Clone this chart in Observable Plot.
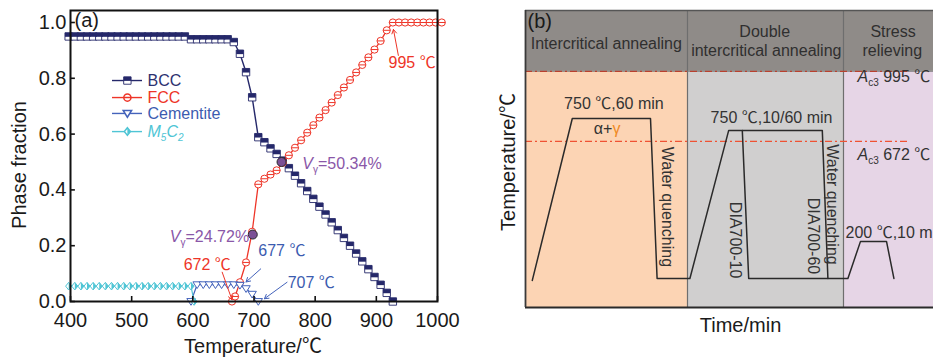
<!DOCTYPE html>
<html><head><meta charset="utf-8">
<script src="https://cdn.jsdelivr.net/npm/d3@7"></script>
<script src="https://cdn.jsdelivr.net/npm/@observablehq/plot@0.6"></script>
<style>
body{margin:0;background:#fff;}
#wrap{position:relative;width:933px;height:358px;overflow:hidden;}
#a{position:absolute;left:0;top:0;}
#b{position:absolute;left:480px;top:0;}
</style></head><body><div id="wrap"><div id="a"></div><div id="b"></div></div>
<script>
// ---------- Panel (a) data: phase fraction vs temperature ----------
const bccT = [397,407,417,427,437,447,457,467,477,487,497,507,517,527,537,547,557,567,577,587,597,607,617,627,637,647,657,667,677,687,697,707,717,727,737,747,757,767,777,787,797,807,817,827,837,847,857,867,877,887,897,907,917,927];
const bccV = [0.95,0.95,0.95,0.95,0.95,0.95,0.95,0.95,0.95,0.95,0.95,0.95,0.95,0.95,0.95,0.95,0.95,0.95,0.95,0.95,0.94,0.94,0.94,0.94,0.94,0.94,0.94,0.93,0.888,0.822,0.732,0.589,0.571,0.549,0.529,0.505,0.478,0.451,0.424,0.396,0.368,0.34,0.312,0.284,0.256,0.228,0.2,0.172,0.144,0.116,0.088,0.06,0.031,0];
const fccT = [664,669,677,687,697,707,717,727,737,747,757,767,777,787,797,807,817,827,837,847,857,867,877,887,897,907,917,927,937,947,957,967,977,987,997,1007];
const fccV = [0,0.018,0.069,0.14,0.25,0.42,0.44,0.455,0.47,0.497,0.524,0.551,0.578,0.605,0.632,0.659,0.686,0.713,0.74,0.767,0.794,0.821,0.848,0.875,0.903,0.934,0.972,1,1,1,1,1,1,1,1,1];
const cemT = [597,607,617,627,637,647,657,667,677,687,697,707];
const cemV = [0,0.06,0.06,0.06,0.06,0.06,0.06,0.06,0.058,0.046,0.026,0];
const m5T = [397,407,417,427,437,447,457,467,477,487,497,507,517,527,537,547,557,567,577,587,597,602];
const m5V = [0.055,0.055,0.055,0.055,0.055,0.055,0.055,0.055,0.055,0.055,0.055,0.055,0.055,0.055,0.055,0.055,0.055,0.055,0.055,0.055,0.055,0];
const seriesNames = ["BCC","FCC","Cementite","M5C2"];
const xTicks = [400,500,600,700,800,900,1000];
const yTicks = [0,0.2,0.4,0.6,0.8,1.0];
const gammaT = [698,745];
const gammaV = [0.24,0.5];
const gammaLabels = ["Vγ=24.72%","Vγ=50.34%"];
const tempLabels = ["995 ℃","672 ℃","677 ℃","707 ℃"];

// ---------- Panel (b) data: heat-treatment schematic ----------
const stageLabels = ["Intercritical annealing","Double intercritical annealing","Stress relieving"];
const stageStart = [0,40.5,79.5];
const stageEnd = [40.5,79.5,110];
const pathTime = [1.7,11.7,31.25,32.9,41.1,50.8,74.2,75.6,80.6,83.75,90.25,92.1];
const pathLevel = [31,778,778,40,40,723,723,40,40,211,211,40];
const dia10Time = [54.2,55.8,75.6];
const dia10Level = [723,40,40];
const criticalTemps = [995,672];

// ---------- styles ----------
const FONT = '"Liberation Sans", Arial, "Noto Sans CJK SC", sans-serif';
const C = {bcc:"#25286a", bccText:"#2d3170", fcc:"#ee3528", cem:"#4463bb", cemText:"#3c5cb0", m5:"#4fc5d5", purple:"#8a57a8", dot:"#7b4f95"};
const LEG_COLORS = [C.bcc, C.fcc, C.cem, C.m5];
const LEG_TEXT = [C.bccText, C.fcc, C.cemText, C.m5];

const zip = (T, V) => T.map((t, i) => ({t, v: V[i]}));
const bcc = zip(bccT, bccV), fcc = zip(fccT, fccV), cem = zip(cemT, cemV), m5 = zip(m5T, m5V);

const rad = s => Math.sqrt(s / Math.PI);
const sqOpen = {draw(c, s){const r = rad(s); c.rect(-r, -r, 2*r, 2*r);}};
const sqTop = {draw(c, s){const r = rad(s); c.rect(-r, -r, 2*r, 1.1*r);}};
const circBar = {draw(c, s){const r = rad(s); c.moveTo(r, 0); c.arc(0, 0, r, 0, 2*Math.PI); c.moveTo(-r, 0); c.lineTo(r, 0);}};
const triDown = {draw(c, s){const r = rad(s); c.moveTo(-r, -0.7*r); c.lineTo(r, -0.7*r); c.lineTo(0, 0.9*r); c.closePath();}};
const diamond = {draw(c, s){const r = rad(s); c.moveTo(0, -r); c.lineTo(0.8*r, 0); c.lineTo(0, r); c.lineTo(-0.8*r, 0); c.closePath();}};
const diamondR = {draw(c, s){const r = rad(s); c.moveTo(0, -r); c.lineTo(0.8*r, 0); c.lineTo(0, r); c.closePath();}};

// legend rows (data units of panel a)
const legendRows = seriesNames.map((name, i) => ({name, v: [0.792,0.731,0.674,0.609][i]}));
const LX1 = 468.7, LX2 = 517.7, LXM = 493, LXT = 525.9;

const annot = [
  {text: tempLabels[0], t: 920, v: 0.857, color: C.fcc, anchor: "start"},
  {text: tempLabels[1], t: 585, v: 0.133, color: C.fcc, anchor: "start"},
  {text: tempLabels[2], t: 707, v: 0.183, color: C.cemText, anchor: "start"},
  {text: tempLabels[3], t: 755, v: 0.068, color: C.cemText, anchor: "start"},
  {text: gammaLabels[1], t: 779, v: 0.495, color: C.purple, anchor: "start"},
  {text: gammaLabels[0], t: 692, v: 0.233, color: C.purple, anchor: "end"}
];
const arrows = [
  {t1: 936, v1: 0.882, t2: 928, v2: 0.975, color: C.fcc},
  {t1: 648, v1: 0.105, t2: 664, v2: 0.006, color: C.fcc},
  {t1: 711, v1: 0.117, t2: 687, v2: 0.07, color: C.cem},
  {t1: 754, v1: 0.069, t2: 717, v2: 0.01, color: C.cem}
];

const plotA = Plot.plot({
  width: 480, height: 358,
  marginLeft: 70, marginRight: 43, marginTop: 10, marginBottom: 57,
  x: {domain: [400, 1000], axis: null},
  y: {domain: [0, 1.043], axis: null},
  style: {fontFamily: FONT, background: "transparent", overflow: "visible"},
  marks: [
    // series
    Plot.line(bcc, {x: "t", y: "v", stroke: C.bcc, strokeWidth: 1.4}),
    Plot.dot(bcc, {x: "t", y: "v", symbol: sqOpen, r: 3.7, fill: "white", stroke: C.bcc, strokeWidth: 0.9}),
    Plot.dot(bcc, {x: "t", y: "v", symbol: sqTop, r: 3.7, fill: C.bcc}),
    Plot.line(fcc, {x: "t", y: "v", stroke: C.fcc, strokeWidth: 1.3}),
    Plot.dot(fcc, {x: "t", y: "v", symbol: circBar, r: 3.6, fill: "white", stroke: C.fcc, strokeWidth: 1}),
    Plot.line(cem, {x: "t", y: "v", stroke: C.cem, strokeWidth: 1.2}),
    Plot.dot(cem, {x: "t", y: "v", symbol: triDown, r: 4.2, fill: "white", stroke: C.cem, strokeWidth: 1}),
    Plot.line(m5, {x: "t", y: "v", stroke: C.m5, strokeWidth: 1.2}),
    Plot.dot(m5, {x: "t", y: "v", symbol: diamond, r: 3.8, fill: "white", stroke: C.m5, strokeWidth: 1}),
    Plot.dot(m5, {x: "t", y: "v", symbol: diamondR, r: 3.8, fill: C.m5}),
    // austenite fraction points
    Plot.dot(gammaT, {x: d => d, y: (d, i) => gammaV[i], r: 4.5, fill: C.dot, stroke: "#2a2a2a", strokeWidth: 1}),
    // annotations
    Plot.arrow(arrows, {x1: "t1", y1: "v1", x2: "t2", y2: "v2", stroke: "color", strokeWidth: 1, headLength: 7}),
    Plot.text(annot.filter(d => d.anchor === "start"), {x: "t", y: "v", text: "text", fill: "color", textAnchor: "start", fontSize: 16}),
    Plot.text(annot.filter(d => d.anchor === "end"), {x: "t", y: "v", text: "text", fill: "color", textAnchor: "end", fontSize: 16}),
    // legend
    Plot.ruleY(legendRows, {y: "v", x1: LX1, x2: LX2, stroke: (d, i) => LEG_COLORS[i], strokeWidth: 1.4}),
    Plot.dot(legendRows.slice(0,1), {x: () => LXM, y: "v", symbol: sqOpen, r: 3.7, fill: "white", stroke: C.bcc, strokeWidth: 0.9}),
    Plot.dot(legendRows.slice(0,1), {x: () => LXM, y: "v", symbol: sqTop, r: 3.7, fill: C.bcc}),
    Plot.dot(legendRows.slice(1,2), {x: () => LXM, y: "v", symbol: circBar, r: 3.6, fill: "white", stroke: C.fcc}),
    Plot.dot(legendRows.slice(2,3), {x: () => LXM, y: "v", symbol: triDown, r: 4.2, fill: "white", stroke: C.cem}),
    Plot.dot(legendRows.slice(3,4), {x: () => LXM, y: "v", symbol: diamond, r: 3.8, fill: "white", stroke: C.m5}),
    Plot.dot(legendRows.slice(3,4), {x: () => LXM, y: "v", symbol: diamondR, r: 3.8, fill: C.m5}),
    Plot.text(legendRows, {x: () => LXT, y: "v", text: "name", textAnchor: "start", fontSize: 16, fill: (d, i) => LEG_TEXT[i]}),
    // axes: inward ticks, labels, frame
    Plot.ruleX(xTicks, {x: d => d, y1: 0, y2: 0.018, stroke: "#111", strokeWidth: 1.6}),
    Plot.ruleY(yTicks, {y: d => d, x1: 400, x2: 408, stroke: "#111", strokeWidth: 1.6}),
    Plot.text(xTicks, {x: d => d, y: () => 0, dy: 19, text: d => String(d), fontSize: 20, fill: "#1a1a1a"}),
    Plot.text(yTicks, {x: () => 400, y: d => d, dx: -4, dy: 0, text: d => d.toFixed(1), textAnchor: "end", fontSize: 20, fill: "#1a1a1a"}),
    Plot.frame({stroke: "#111", strokeWidth: 2}),
    Plot.text(["(a)"], {frameAnchor: "top-left", dx: 4, dy: 2, textAnchor: "start", lineAnchor: "top", fontSize: 20, fill: "#1a1a1a"}),
    Plot.text(["Phase fraction"], {frameAnchor: "left", dx: -51, dy: 9, rotate: -90, textAnchor: "middle", lineAnchor: "middle", fontSize: 20, fill: "#1a1a1a"}),
    Plot.text(["Temperature/℃"], {frameAnchor: "bottom", dx: -1, dy: 45, textAnchor: "middle", lineAnchor: "middle", fontSize: 20, fill: "#1a1a1a"})
  ]
});

// ---------- Panel (b) ----------
const BC = {head: "#8f8b88", fills: ["#fcd4b4", "#d0cfcf", "#e6d5e6"], line: "#2a2a2a", text: "#333", ac3top: "#b8402e", ac3: "#ef5233"};
const stages = stageLabels.map((name, i) => ({name, x1: stageStart[i], x2: stageEnd[i]}));
const path = pathTime.map((t, i) => ({t, y: pathLevel[i]}));
const dia10 = dia10Time.map((t, i) => ({t, y: dia10Level[i]}));
const YBOT = -94, YTOP = 1276;
const headerText = [
  {text: "Intercritical annealing", x: 20.2, y: 1124},
  {text: "Double", x: 59.8, y: 1179},
  {text: "intercritical annealing", x: 60.2, y: 1092},
  {text: "Stress", x: 91.9, y: 1179},
  {text: "relieving", x: 91.7, y: 1092}
];
const bodyText = [
  {text: "750 ℃,60 min", x: 22.1, y: 843, anchor: "middle"},
  {text: "α+γ", x: 20.4, y: 732, anchor: "middle"},
  {text: "750 ℃,10/60 min", x: 61.5, y: 783, anchor: "middle"},
  {text: "200 ℃,10 min", x: 80, y: 252, anchor: "start"},
  {text: "Ac3 995 ℃", x: 83, y: 972, anchor: "start"},
  {text: "Ac3 672 ℃", x: 83, y: 612, anchor: "start"}
];
const vertText = [
  {text: "Water quenching", x: 35.3, y: 370},
  {text: "Water quenching", x: 76.7, y: 381},
  {text: "DIA700-10", x: 52.5, y: 217},
  {text: "DIA700-60", x: 71.9, y: 236}
];

const plotB = Plot.plot({
  width: 453, height: 358,
  marginLeft: 45, marginRight: 0, marginTop: 10, marginBottom: 51,
  x: {domain: [0, 102], axis: null},
  y: {domain: [YBOT, YTOP], axis: null},
  style: {fontFamily: FONT, background: "transparent"},
  marks: [
    Plot.rect(stages, {x1: "x1", x2: "x2", y1: () => YBOT, y2: () => criticalTemps[0], fill: (d, i) => BC.fills[i]}),
    Plot.rect([0], {x1: () => 0, x2: () => 110, y1: () => criticalTemps[0], y2: () => YTOP, fill: BC.head}),
    Plot.ruleX(stageStart.slice(1), {x: d => d, y1: YBOT, y2: YTOP, stroke: "#6e6e6e", strokeWidth: 1.2}),
    Plot.ruleY([criticalTemps[0]], {y: d => d, x1: 0, x2: 110, stroke: "#777", strokeWidth: 0.8}),
    Plot.ruleY(criticalTemps, {y: d => d, x1: 0, x2: 96.25, stroke: (d, i) => i === 0 ? BC.ac3top : BC.ac3, strokeWidth: 1.3, strokeDasharray: "7,3,2,3"}),
    Plot.ruleY([YTOP], {y: d => d, x1: 0, x2: 110, stroke: "#555", strokeWidth: 1.5}),
    Plot.ruleY([YBOT], {y: d => d, x1: 0, x2: 110, stroke: "#2a2a2a", strokeWidth: 2.2}),
    Plot.ruleX([0], {x: d => d, y1: YBOT, y2: YTOP, stroke: "#3a3a3a", strokeWidth: 1.8}),
    Plot.line(path, {x: "t", y: "y", stroke: BC.line, strokeWidth: 1.5}),
    Plot.line(dia10, {x: "t", y: "y", stroke: BC.line, strokeWidth: 1.5}),
    Plot.text(headerText, {x: "x", y: "y", text: "text", fontSize: 16, fill: "#2f2f2f"}),
    Plot.text(bodyText.filter(d => d.anchor === "middle"), {x: "x", y: "y", text: "text", fontSize: 16, fill: BC.text}),
    Plot.text(bodyText.filter(d => d.anchor === "start"), {x: "x", y: "y", text: "text", fontSize: 16, fill: BC.text, textAnchor: "start"}),
    Plot.text(vertText, {x: "x", y: "y", text: "text", fontSize: 16, fill: BC.text, rotate: 90}),
    Plot.text(["(b)"], {frameAnchor: "top-left", dx: 2, dy: 3, textAnchor: "start", lineAnchor: "top", fontSize: 20, fill: "#1a1a1a"}),
    Plot.text(["Temperature/℃"], {frameAnchor: "left", dx: -17, dy: 3, rotate: -90, textAnchor: "middle", lineAnchor: "middle", fontSize: 20, fill: "#1a1a1a"}),
    Plot.text(["Time/min"], {x: () => 53.75, frameAnchor: "bottom", dy: 18, lineAnchor: "middle", fontSize: 20, fill: "#1a1a1a"})
  ]
});

// rich text: italics, subscripts, colored glyphs
function richText(svg, rules) {
  d3.select(svg).selectAll("text").each(function() {
    const parts = rules[this.textContent];
    if (!parts) return;
    const el = d3.select(this);
    el.text(null);
    for (const p of parts) {
      const ts = el.append("tspan").text(p.t);
      if (p.i) ts.attr("font-style", "italic");
      if (p.fs) ts.attr("font-size", p.fs);
      if (p.dy) ts.attr("dy", p.dy);
      if (p.fill) ts.attr("fill", p.fill);
    }
  });
}
const gam = (rest) => [{t: "V", i: true}, {t: "γ", fs: 10, dy: 4}, {t: rest, dy: -4}];
richText(plotA, {
  "M5C2": [{t: "M", i: true}, {t: "5", i: true, fs: 10, dy: 4}, {t: "C", i: true, dy: -4}, {t: "2", i: true, fs: 10, dy: 4}],
  "Vγ=24.72%": gam("=24.72%"),
  "Vγ=50.34%": gam("=50.34%")
});
richText(plotB, {
  "α+γ": [{t: "α+"}, {t: "γ", fill: "#f08a24"}],
  "Ac3 995 ℃": [{t: "A", i: true}, {t: "c3", fs: 10, dy: 4}, {t: " 995 ℃", dy: -4}],
  "Ac3 672 ℃": [{t: "A", i: true}, {t: "c3", fs: 10, dy: 4}, {t: " 672 ℃", dy: -4}]
});

document.getElementById("a").appendChild(plotA);
document.getElementById("b").appendChild(plotB);
</script>
</body></html>
